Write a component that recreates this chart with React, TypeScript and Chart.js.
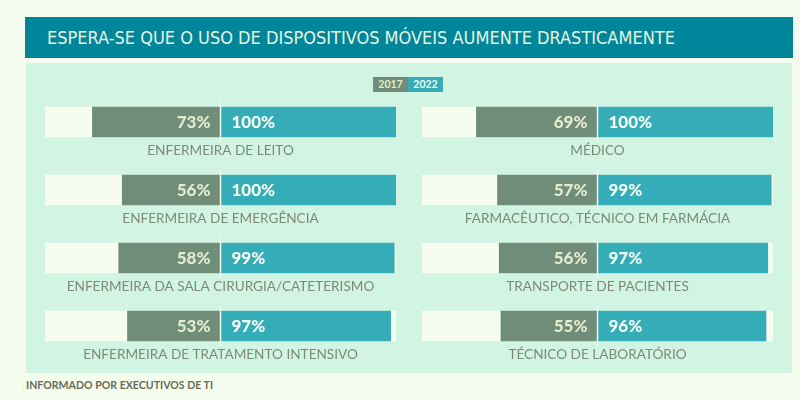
import { useEffect, useRef } from "react";
import { Chart, registerables } from "chart.js";

Chart.register(...registerables);

const titleText = "ESPERA-SE QUE O USO DE DISPOSITIVOS MÓVEIS AUMENTE DRASTICAMENTE";
const footerText = "INFORMADO POR EXECUTIVOS DE TI";
const seriesLabels = ["2017", "2022"];
const scaleMax = 100;

const leftCategories = [
  "ENFERMEIRA DE LEITO",
  "ENFERMEIRA DE EMERGÊNCIA",
  "ENFERMEIRA DA SALA CIRURGIA/CATETERISMO",
  "ENFERMEIRA DE TRATAMENTO INTENSIVO",
];
const left2017 = [73, 56, 58, 53];
const left2022 = [100, 100, 99, 97];

const rightCategories = [
  "MÉDICO",
  "FARMACÊUTICO, TÉCNICO EM FARMÁCIA",
  "TRANSPORTE DE PACIENTES",
  "TÉCNICO DE LABORATÓRIO",
];
const right2017 = [69, 57, 56, 55];
const right2022 = [100, 99, 97, 96];

const COLORS = {
  page: "#f5fdef",
  title: "#00869b",
  titleText: "#e4f5e2",
  panel: "#d2f5e3",
  gray: "#6f8d78",
  teal: "#34adb8",
  base: "#f6fdef",
  grayText: "#e3ebcd",
  tealText: "#f5fcf4",
  label: "#7d8a78",
  footer: "#6a6b58",
  centerLine: "#f3fbee",
};

const labelPlugin = {
  id: "diverLabels",
  afterDatasetsDraw(chart: any) {
    const { ctx } = chart;
    const xs = chart.scales.x;
    const ys = chart.scales.y;
    const x0 = xs.getPixelForValue(0);
    const cats: string[] = chart.data.labels;
    const d17 = chart.data.datasets[0].data;
    const d22 = chart.data.datasets[1].data;
    ctx.save();
    cats.forEach((cat, i) => {
      const yc = ys.getPixelForValue(i);
      ctx.strokeStyle = COLORS.centerLine;
      ctx.lineWidth = 1.5;
      ctx.beginPath();
      ctx.moveTo(x0, yc - 20);
      ctx.lineTo(x0, yc + 20);
      ctx.stroke();
      ctx.font = "900 17px Lato";
      ctx.textBaseline = "middle";
      ctx.textAlign = "right";
      ctx.fillStyle = COLORS.grayText;
      ctx.fillText(Math.abs(d17[i][0]) + "%", x0 - 10, yc + 1);
      ctx.textAlign = "left";
      ctx.fillStyle = COLORS.tealText;
      ctx.fillText(d22[i][1] + "%", x0 + 11, yc + 1);
      ctx.font = "13.6px Lato";
      ctx.textAlign = "center";
      ctx.fillStyle = COLORS.label;
      ctx.fillText(cat, x0, yc + 29);
    });
    ctx.restore();
  },
};

function Panel({ categories, v2017, v2022 }: { categories: string[]; v2017: number[]; v2022: number[] }) {
  const ref = useRef<HTMLCanvasElement>(null);
  useEffect(() => {
    if (!ref.current) return;
    const chart = new Chart(ref.current, {
      type: "bar",
      data: {
        labels: categories,
        datasets: [
          {
            label: seriesLabels[0],
            data: v2017.map((v) => [-v, 0]),
            backgroundColor: COLORS.gray,
            grouped: false,
            barThickness: 30,
            borderWidth: 0,
          } as any,
          {
            label: seriesLabels[1],
            data: v2022.map((v) => [0, v]),
            backgroundColor: COLORS.teal,
            grouped: false,
            barThickness: 30,
            borderWidth: 0,
          } as any,
          {
            label: "base",
            data: categories.map(() => [-scaleMax, scaleMax]),
            backgroundColor: COLORS.base,
            grouped: false,
            barThickness: 30,
            borderWidth: 0,
          } as any,
        ],
      },
      options: {
        indexAxis: "y",
        responsive: false,
        animation: false,
        layout: { padding: { top: 0, bottom: 18, left: 0, right: 0 } },
        plugins: { legend: { display: false }, tooltip: { enabled: false } },
        scales: {
          x: { type: "linear", min: -scaleMax, max: scaleMax, display: false },
          y: { type: "category", display: false, offset: true },
        },
      },
      plugins: [labelPlugin],
    });
    return () => chart.destroy();
  }, []);
  return <canvas ref={ref} width={351} height={290} style={{ width: 351, height: 290, display: "block" }} />;
}

export default function App() {
  return (
    <div
      style={{
        position: "absolute",
        left: 0,
        top: 0,
        width: 800,
        height: 400,
        background: COLORS.page,
        overflow: "hidden",
        fontFamily: "Lato, sans-serif",
      }}
    >
      <div
        style={{
          position: "absolute",
          left: 25,
          top: 17,
          width: 768,
          height: 41,
          background: COLORS.title,
          color: COLORS.titleText,
          fontFamily: "'Liberation Sans Narrow', 'DejaVu Sans Condensed', 'Roboto', sans-serif",
          fontStretch: "condensed",
          fontSize: 18,
          lineHeight: "41px",
          paddingLeft: 22,
          boxSizing: "border-box",
          whiteSpace: "nowrap",
        }}
      >
        {titleText}
      </div>
      <div style={{ position: "absolute", left: 26, top: 63, width: 766, height: 310, background: COLORS.panel }} />
      <div style={{ position: "absolute", left: 373, top: 77, height: 15, display: "flex", fontWeight: 700, fontSize: 10.5 }}>
        <span style={{ background: COLORS.gray, color: COLORS.grayText, width: 35, textAlign: "center", lineHeight: "15px" }}>
          {seriesLabels[0]}
        </span>
        <span style={{ background: COLORS.teal, color: COLORS.tealText, width: 35, textAlign: "center", lineHeight: "15px" }}>
          {seriesLabels[1]}
        </span>
      </div>
      <div style={{ position: "absolute", left: 45, top: 88 }}>
        <Panel categories={leftCategories} v2017={left2017} v2022={left2022} />
      </div>
      <div style={{ position: "absolute", left: 422, top: 88 }}>
        <Panel categories={rightCategories} v2017={right2017} v2022={right2022} />
      </div>
      <div
        style={{
          position: "absolute",
          left: 26,
          top: 378,
          fontWeight: 700,
          fontSize: 10.6,
          color: COLORS.footer,
          lineHeight: "14px",
          whiteSpace: "nowrap",
        }}
      >
        {footerText}
      </div>
    </div>
  );
}
